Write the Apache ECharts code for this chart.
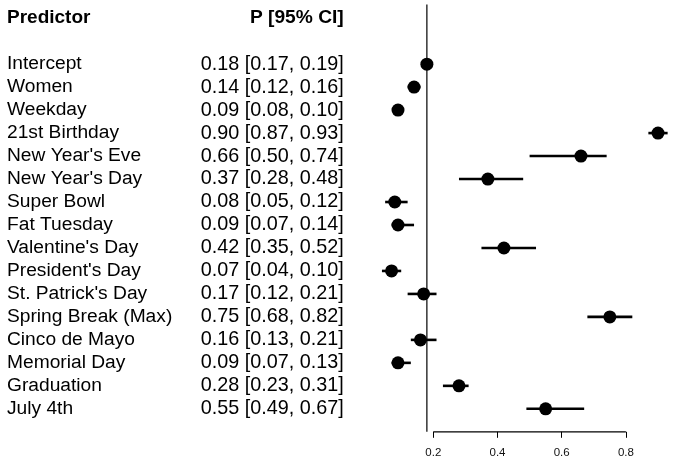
<!DOCTYPE html>
<html>
<head>
<meta charset="utf-8">
<script src="https://cdn.jsdelivr.net/npm/echarts@6/dist/echarts.min.js"></script>
<style>html,body{margin:0;padding:0;background:#fff}#c{width:676px;height:463px}</style>
</head>
<body>
<div id="c"></div>
<script>
var predictors = ["Intercept","Women","Weekday","21st Birthday","New Year's Eve","New Year's Day","Super Bowl","Fat Tuesday","Valentine's Day","President's Day","St. Patrick's Day","Spring Break (Max)","Cinco de Mayo","Memorial Day","Graduation","July 4th"];
var estimates = [0.18,0.14,0.09,0.90,0.66,0.37,0.08,0.09,0.42,0.07,0.17,0.75,0.16,0.09,0.28,0.55];
var lower     = [0.17,0.12,0.08,0.87,0.50,0.28,0.05,0.07,0.35,0.04,0.12,0.68,0.13,0.07,0.23,0.49];
var upper     = [0.19,0.16,0.10,0.93,0.74,0.48,0.12,0.14,0.52,0.10,0.21,0.82,0.21,0.13,0.31,0.67];
var xTicks = [0.2,0.4,0.6,0.8];
var refValue = 0.18;
var headerLeft = "Predictor";
var headerRight = "P [95% CI]";

var FONT = "'Liberation Sans', Arial, sans-serif";
var rows = predictors.map(function(_, i){ return i; });
var labelVals = [-2].concat(rows);

function ciText(i){
  return estimates[i].toFixed(2) + " [" + lower[i].toFixed(2) + ", " + upper[i].toFixed(2) + "]";
}

var chart = echarts.init(document.getElementById('c'), null, {renderer:'canvas'});
var yBase = {
  type:'value', inverse:true, min:-2.6, max:16,
  axisLine:{show:false, onZero:false}, axisTick:{show:false}, splitLine:{show:false}
};
chart.setOption({
  animation:false,
  grid:{left:417.25, right:1.95, top:4.4, bottom:31.2, containLabel:false},
  xAxis:{
    type:'value', min:0.15, max:0.95, position:'bottom',
    axisLine:{show:false, onZero:false}, splitLine:{show:false},
    axisTick:{show:true, customValues:xTicks, length:6, lineStyle:{color:'#000', width:1}},
    axisLabel:{customValues:xTicks, fontSize:11.5, color:'#111', margin:15, fontFamily:FONT,
      formatter:function(v){ return String(v); }}
  },
  yAxis:[
    Object.assign({}, yBase, {
      position:'left',
      axisLabel:{customValues:labelVals, align:'left', margin:410.25, fontSize:19.2, color:'#000', fontFamily:FONT,
        formatter:function(v){ return v === -2 ? '{b|' + headerLeft + '}' : predictors[v]; },
        rich:{b:{fontWeight:'bold', fontSize:19, fontFamily:FONT, color:'#000'}}}
    }),
    Object.assign({}, yBase, {
      position:'left',
      axisLabel:{customValues:labelVals, align:'right', margin:73.5, fontSize:19.8, color:'#000', fontFamily:FONT,
        formatter:function(v){ return v === -2 ? '{b|' + headerRight + '}' : ciText(v); },
        rich:{b:{fontWeight:'bold', fontSize:19.2, fontFamily:FONT, color:'#000'}}}
    })
  ],
  series:[
    {
      type:'line', clip:false, symbol:'none', silent:true,
      data:[[refValue,-2.6],[refValue,16]],
      lineStyle:{color:'#000', width:1.2}
    },
    {
      type:'line', clip:false, symbol:'none', silent:true,
      data:[[xTicks[0],16],[xTicks[xTicks.length-1],16]],
      lineStyle:{color:'#000', width:1.2}
    },
    {
      type:'custom', clip:false,
      data: rows.map(function(i){ return [lower[i], upper[i], i]; }),
      renderItem:function(params, api){
        var p1 = api.coord([api.value(0), api.value(2)]);
        var p2 = api.coord([api.value(1), api.value(2)]);
        return {type:'line', shape:{x1:p1[0], y1:p1[1], x2:p2[0], y2:p2[1]},
          style:{stroke:'#000', lineWidth:2.6}};
      },
      encode:{x:[0,1], y:2}
    },
    {
      type:'scatter', clip:false, symbol:'circle', symbolSize:13,
      itemStyle:{color:'#000', opacity:1},
      data: rows.map(function(i){ return [estimates[i], i]; })
    }
  ]
});
</script>
</body>
</html>
